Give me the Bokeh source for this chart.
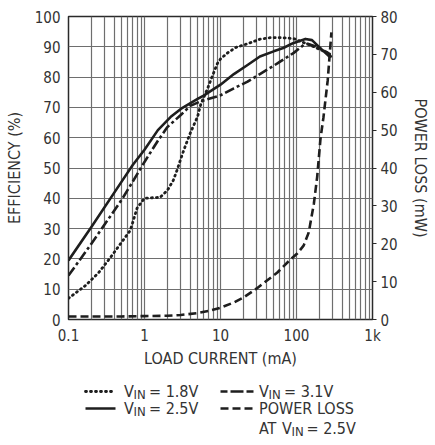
from bokeh.plotting import figure
from bokeh.models import Range1d, LinearAxis, FixedTicker, CustomJSTickFormatter, ColumnDataSource
from bokeh.embed import file_html
from bokeh.resources import INLINE
from bokeh.core.properties import value

# ---------------- data ----------------
i_18 = [0.1, 0.167, 0.25, 0.357, 0.5, 0.65, 0.8, 1.0, 1.3, 1.6, 2.0, 2.4, 2.7, 3.0, 3.3, 4.0, 5.0, 5.5,
        6.7, 8.0, 9.1, 10, 12.4, 16, 22.7, 33, 45, 67, 92, 113, 153, 200, 257, 290]
eff_18 = [7, 11.2, 15.5, 20.5, 25.5, 29.4, 36.8, 40, 40.2, 40.3, 42.6, 46, 49.5, 53, 56, 61.5, 67, 71,
          76, 81, 84.5, 86, 88, 89.8, 91, 92.5, 93, 93, 92.7, 91.8, 90.5, 89.2, 88, 86.5]

i_25 = [0.1, 0.2, 0.5, 0.7, 1.0, 1.5, 2.2, 3.0, 5.0, 6.0, 10, 15, 22.7, 33, 50, 67, 90, 131, 160, 207, 250, 280]
eff_25 = [19.5, 30.5, 45.5, 51, 56, 62.5, 66.8, 69.5, 72.8, 73.9, 77.5, 81, 84, 86.8, 88.5, 89.6, 91.2,
          92.6, 92.2, 89.5, 87.6, 86.5]

i_31 = [0.1, 0.2, 0.5, 0.7, 1.0, 1.5, 2.0, 3.0, 4.0, 5.5, 10, 15, 22.7, 33, 56, 92, 124, 140, 195, 280]
eff_31 = [14.5, 25, 39.5, 45.5, 52, 59, 63.5, 67.5, 70.5, 72, 74, 76.3, 78.5, 81, 84.5, 88, 90.6, 91,
          89.8, 87.5]

i_pl = [0.1, 0.5, 1, 2, 3, 5, 7, 10, 15, 20, 30, 56, 80, 103, 124, 145, 169, 187, 207, 226, 257, 288]
pl_25 = [0.8, 0.8, 0.9, 1.0, 1.2, 1.7, 2.3, 3.1, 4.5, 5.8, 8.2, 12.4, 15.5, 17.5, 19.5, 23, 30.5,
         37.6, 47.8, 53.3, 63, 75.8]

x_ticks = [0.1, 1, 10, 100, 1000]
x_minor = [m * d for d in [0.1, 1, 10, 100] for m in range(2, 10)]
eff_ticks = list(range(0, 101, 10))
pl_ticks = list(range(0, 81, 10))

FONT = "DejaVu Sans Condensed, DejaVu Sans, sans-serif"
TXT = "#333333"
INK = "#1e1e1e"
GRID = "#6e6e6e"

# ---------------- main figure ----------------
p = figure(width=432, height=372, x_axis_type="log",
           x_range=Range1d(0.1, 1000), y_range=Range1d(0, 100),
           output_backend="svg", toolbar_location=None,
           min_border_left=68, min_border_right=60, min_border_top=16, min_border_bottom=53)
p.extra_y_ranges = {"pl": Range1d(0, 80)}

p.outline_line_color = "#2a2a2a"
p.outline_line_width = 1.5
p.background_fill_color = "white"
p.border_fill_color = "white"

p.xaxis.ticker = FixedTicker(ticks=x_ticks, minor_ticks=x_minor)
p.xaxis.formatter = CustomJSTickFormatter(code="return tick >= 1000 ? (tick/1000).toFixed(0) + 'k' : String(tick);")
p.yaxis.ticker = FixedTicker(ticks=eff_ticks)

for ax in [p.xaxis[0], p.yaxis[0]]:
    ax.major_tick_out = 0
    ax.major_tick_in = 0
    ax.minor_tick_out = 0
    ax.minor_tick_in = 0
    ax.axis_line_color = None
    ax.major_label_text_font = FONT
    ax.major_label_text_font_size = "15px"
    ax.major_label_text_color = TXT
    ax.axis_label_text_font = FONT
    ax.axis_label_text_font_size = "16px"
    ax.axis_label_text_font_style = "normal"
    ax.axis_label_text_color = TXT

p.xaxis.axis_label = "LOAD CURRENT (mA)"
p.xaxis.major_label_standoff = 7
p.xaxis.axis_label_standoff = 1
p.yaxis.axis_label = "EFFICIENCY (%)"
p.yaxis.major_label_standoff = 8
p.yaxis.axis_label_standoff = 8

rax = LinearAxis(y_range_name="pl", ticker=FixedTicker(ticks=pl_ticks), axis_label="POWER LOSS (mW)")
rax.major_tick_out = 4
rax.major_tick_in = 0
rax.major_tick_line_color = "#2a2a2a"
rax.major_tick_line_width = 1.2
rax.minor_tick_out = 0
rax.minor_tick_in = 0
rax.axis_line_color = None
rax.major_label_standoff = 4
rax.axis_label_standoff = 10
rax.major_label_text_font = FONT
rax.major_label_text_font_size = "15px"
rax.major_label_text_color = TXT
rax.axis_label_text_font = FONT
rax.axis_label_text_font_size = "16px"
rax.axis_label_text_font_style = "normal"
rax.axis_label_text_color = TXT
p.add_layout(rax, "right")

p.xgrid.grid_line_color = GRID
p.xgrid.grid_line_width = 1.2
p.xgrid.minor_grid_line_color = GRID
p.xgrid.minor_grid_line_width = 1.2
p.ygrid.grid_line_color = GRID
p.ygrid.grid_line_width = 1.2

p.line(i_18, eff_18, line_color=INK, line_width=2.8, line_dash="1 4", line_cap="round", line_join="round")
p.line(i_25, eff_25, line_color=INK, line_width=2.6, line_join="round")
p.line(i_31, eff_31, line_color=INK, line_width=2.6, line_dash="10 3 3 3", line_join="round")
p.line(i_pl, pl_25, y_range_name="pl", line_color=INK, line_width=2.6, line_dash="8 4", line_join="round")

# ---------------- legend figure (separate root, page-pixel coordinates) ----------------
LH = 70
lg = figure(width=432, height=LH, x_range=Range1d(0, 432), y_range=Range1d(LH, 0),
            output_backend="svg", toolbar_location=None,
            x_axis_location=None, y_axis_location=None,
            min_border=0, min_border_left=0, min_border_right=0, min_border_top=0, min_border_bottom=0)
lg.outline_line_color = None
lg.xgrid.visible = False
lg.ygrid.visible = False

r1, r2, r3 = 19, 36, 56
lg.line([85, 115], [r1, r1], line_color=INK, line_width=2.8, line_dash="1 4", line_cap="round")
lg.line([85, 115], [r2, r2], line_color=INK, line_width=2.6)
lg.line([220, 253], [r1, r1], line_color=INK, line_width=2.6, line_dash="7 3 13 3")
lg.line([220, 253], [r2, r2], line_color=INK, line_width=2.6, line_dash="8 4")

main_src = ColumnDataSource(dict(
    x=[123.5, 148.5, 123.5, 148.5, 258.5, 283.5, 258.5, 258.5, 281.5, 306],
    y=[r1, r1, r2, r2, r1, r1, r2, r3, r3, r3],
    t=["V", "= 1.8V", "V", "= 2.5V", "V", "= 3.1V", "POWER LOSS", "AT", "V", "= 2.5V"],
))
sub_src = ColumnDataSource(dict(
    x=[133, 133, 268, 291],
    y=[r1 + 3, r2 + 3, r1 + 3, r3 + 3],
    t=["IN", "IN", "IN", "IN"],
))
lg.text(x="x", y="y", text="t", source=main_src, text_font=value(FONT), text_font_size="16px",
        text_color=TXT, text_baseline="middle", text_align="left")
lg.text(x="x", y="y", text="t", source=sub_src, text_font=value(FONT), text_font_size="13px",
        text_color=TXT, text_baseline="middle", text_align="left")

open("out.html", "w").write(file_html([p, lg], INLINE))
